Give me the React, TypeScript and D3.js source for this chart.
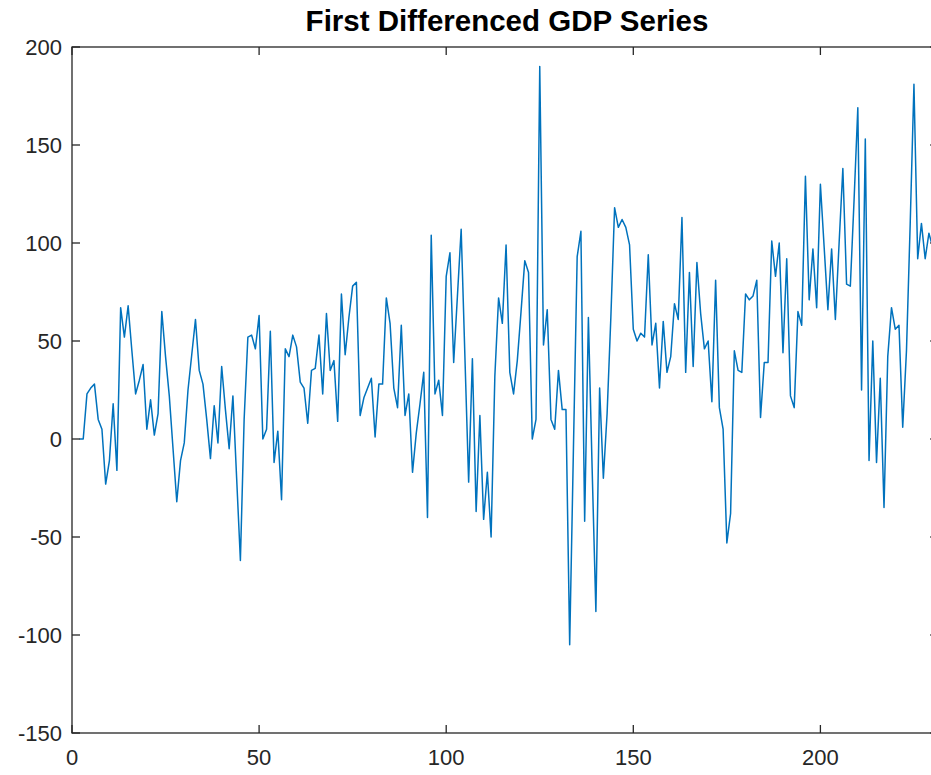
import React from "react";
import * as d3 from "d3";

const title = "First Differenced GDP Series";
const startIndex = 2;
const values: number[] = [
  0, 0, 23, 26, 28, 10, 5, -23, -11, 18, -16, 67, 52, 68, 45, 23, 30, 38, 5, 20,
  2, 13, 65, 42, 22, -5, -32, -11, -2, 25, 43, 61, 35, 28, 10, -10, 17, -2, 37, 15,
  -5, 22, -20, -62, 10, 52, 53, 46, 63, 0, 5, 55, -12, 4, -31, 46, 42, 53, 47, 29,
  26, 8, 35, 36, 53, 23, 64, 35, 40, 9, 74, 43, 62, 78, 80, 12, 21, 26, 31, 1,
  28, 28, 72, 59, 26, 16, 58, 12, 23, -17, 3, 18, 34, -40, 104, 23, 30, 12, 83, 95,
  39, 73, 107, 42, -22, 41, -37, 12, -41, -17, -50, 32, 72, 59, 99, 34, 23, 40, 65, 91,
  85, 0, 10, 190, 48, 66, 10, 5, 35, 15, 15, -105, -5, 93, 106, -42, 62, -15, -88, 26,
  -20, 13, 62, 118, 108, 112, 108, 99, 56, 50, 54, 52, 94, 48, 59, 26, 60, 34, 42, 69,
  61, 113, 34, 85, 37, 90, 64, 46, 50, 19, 81, 16, 5, -53, -38, 45, 35, 34, 74, 71,
  73, 81, 11, 39, 39, 101, 83, 100, 44, 92, 22, 16, 65, 58, 134, 71, 97, 67, 130, 98,
  66, 97, 61, 100, 138, 79, 78, 122, 169, 25, 153, -11, 50, -12, 31, -35, 42, 67, 56, 58,
  6, 45, 110, 181, 92, 110, 92, 105, 98, 100,
];
const xTicks = [0, 50, 100, 150, 200];
const yTicks = [-150, -100, -50, 0, 50, 100, 150, 200];
const xDomain: [number, number] = [0, 231.5];
const yDomain: [number, number] = [-150, 200];

export default function App() {
  const W = 931, H = 775;
  const left = 72, top = 47, bottom = 733;
  const right = left + (xDomain[1] - xDomain[0]) * 3.742;
  const x = d3.scaleLinear().domain(xDomain).range([left, right]);
  const y = d3.scaleLinear().domain(yDomain).range([bottom, top]);
  const data = values.map((v, i) => ({ i: i + startIndex, v }));
  const line = d3.line<{ i: number; v: number }>().x(d => x(d.i)).y(d => y(d.v))(data) || "";
  const axisColor = "#262626";
  const tickLen = 8;
  const font = "'Liberation Sans', Arial, sans-serif";
  return (
    <svg width={W} height={H} style={{ position: "absolute", left: 0, top: 0, background: "#fff" }}>
      <rect x={0} y={0} width={W} height={H} fill="#fff" />
      <defs>
        <clipPath id="plotclip">
          <rect x={left} y={top} width={right - left} height={bottom - top} />
        </clipPath>
      </defs>
      <path d={line} fill="none" stroke="#0072BD" strokeWidth={1.5} strokeLinejoin="round" clipPath="url(#plotclip)" />
      <rect x={left} y={top} width={right - left} height={bottom - top} fill="none" stroke={axisColor} strokeWidth={1.3} />
      {xTicks.map(t => (
        <g key={"x" + t}>
          <line x1={x(t)} x2={x(t)} y1={bottom} y2={bottom - tickLen} stroke={axisColor} strokeWidth={1.3} />
          <line x1={x(t)} x2={x(t)} y1={top} y2={top + tickLen} stroke={axisColor} strokeWidth={1.3} />
          <text x={x(t)} y={bottom + 32} textAnchor="middle" fontFamily={font} fontSize={22} fill={axisColor}>{t}</text>
        </g>
      ))}
      {yTicks.map(t => (
        <g key={"y" + t}>
          <line x1={left} x2={left + tickLen} y1={y(t)} y2={y(t)} stroke={axisColor} strokeWidth={1.3} />
          <line x1={right} x2={right - tickLen} y1={y(t)} y2={y(t)} stroke={axisColor} strokeWidth={1.3} />
          <text x={left - 10} y={y(t) + 8} textAnchor="end" fontFamily={font} fontSize={22} fill={axisColor}>{t}</text>
        </g>
      ))}
      <text x={507} y={31} textAnchor="middle" fontFamily={font} fontSize={29.5} fontWeight="bold" fill="#000">{title}</text>
    </svg>
  );
}
